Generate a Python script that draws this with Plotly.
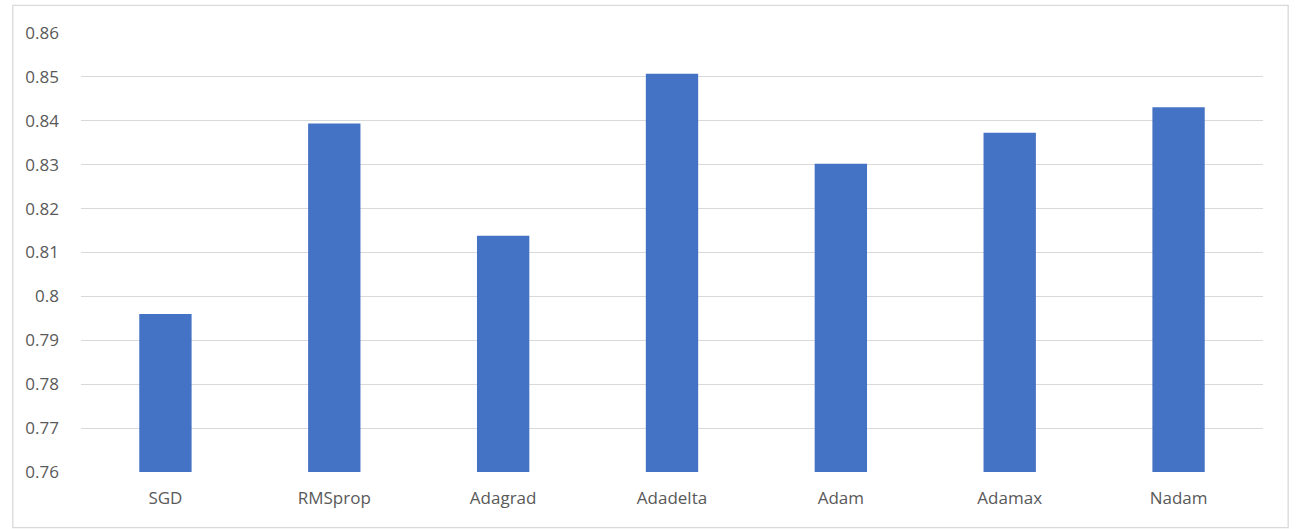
import plotly.graph_objects as go

categories = ["SGD", "RMSprop", "Adagrad", "Adadelta", "Adam", "Adamax", "Nadam"]
values = [0.796, 0.8394, 0.8138, 0.8507, 0.8302, 0.8373, 0.8431]
y_ticks = [0.76, 0.77, 0.78, 0.79, 0.8, 0.81, 0.82, 0.83, 0.84, 0.85, 0.86]
y_tick_labels = ["0.76", "0.77", "0.78", "0.79", "0.8", "0.81", "0.82", "0.83", "0.84", "0.85", "0.86"]

fig = go.Figure()
fig.add_trace(go.Bar(x=categories, y=values, marker=dict(color="#4472C4", line=dict(width=0)),
                     hoverinfo="x+y"))

fig.update_layout(
    width=1298, height=529,
    margin=dict(l=81, r=35, t=33, b=57),
    paper_bgcolor="white", plot_bgcolor="white",
    bargap=0.69,
    showlegend=False,
    font=dict(family="Open Sans", color="#595959", size=17),
    xaxis=dict(showgrid=False, showline=False, zeroline=False, ticks="",
               tickfont=dict(size=17, color="#595959"), ticklabelstandoff=14),
    yaxis=dict(range=[0.76, 0.86], tickvals=y_ticks, ticktext=y_tick_labels,
               showgrid=True, gridcolor="#D9D9D9", gridwidth=1, zeroline=False,
               showline=False, ticks="", tickfont=dict(size=17, color="#595959"),
               ticklabelstandoff=21),
    shapes=[dict(type="rect", xref="paper", yref="paper", x0=-0.0577, x1=1.0213,
                 y0=-0.1265, y1=1.0629, line=dict(color="#D9D9D9", width=1.3),
                 fillcolor="rgba(0,0,0,0)", layer="below")],
)

fig.write_html("out.html")
